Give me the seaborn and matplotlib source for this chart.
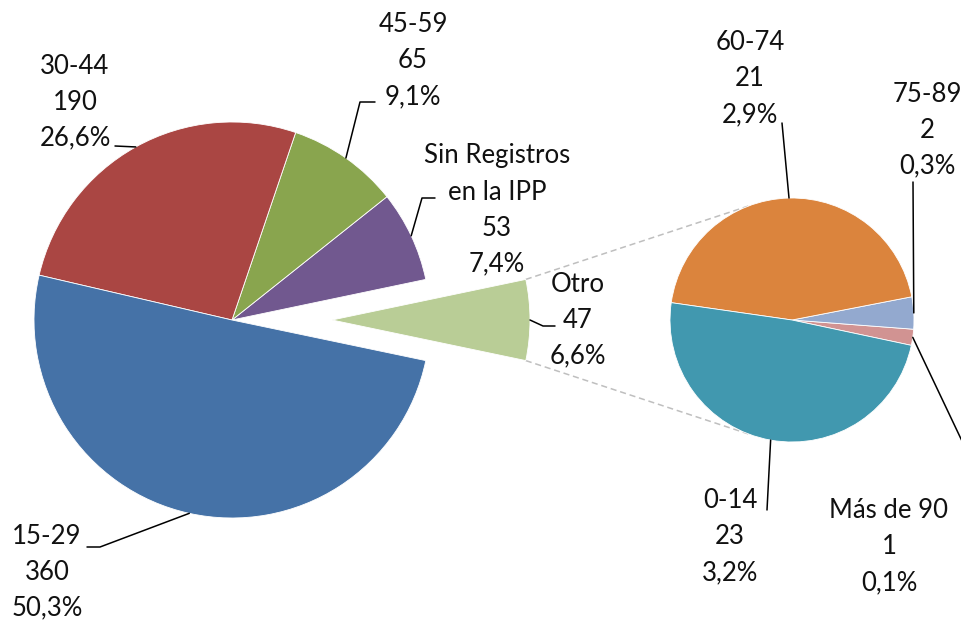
import numpy as np
import seaborn as sns
import matplotlib.pyplot as plt

# datos del grafico principal (en orden antihorario desde "Otro")
grupos_sec = ['Más de 90', '75-89', '60-74', '0-14']
valores_sec = [1, 2, 21, 23]
colores_sec = ['#D19392', '#93A9CF', '#DB843D', '#4198AF']

grupos = ['Otro', 'Sin Registros\nen la IPP', '45-59', '30-44', '15-29']
valores = [sum(valores_sec), 53, 65, 190, 360]
colores = ['#B9CD96', '#71588F', '#89A54E', '#AA4643', '#4572A7']

total = sum(valores)

sns.set_theme(style='white')
plt.rcParams['font.family'] = ['Lato', 'DejaVu Sans']

fig = plt.figure(figsize=(9.62, 6.2), dpi=100)
ax = fig.add_axes([0, 0, 1, 1])

# pastel principal, con "Otro" separado hacia la derecha
inicio = -valores[0] / total * 360 / 2
wedges, _ = ax.pie(valores, colors=colores, startangle=inicio, center=(232, 300),
                   radius=198, explode=[100, 0, 0, 0, 0], frame=True,
                   wedgeprops=dict(edgecolor='white', linewidth=0.6))

# pastel secundario con el desglose de "Otro"
inicio_sec = -12
wedges_sec, _ = ax.pie(valores_sec, colors=colores_sec, startangle=inicio_sec,
                       center=(792, 300), radius=122, frame=True,
                       wedgeprops=dict(edgecolor='white', linewidth=0.6))


def borde(w, ang=None):
    if ang is None:
        ang = (w.theta1 + w.theta2) / 2
    a = np.deg2rad(ang)
    return w.center[0] + w.r * np.cos(a), w.center[1] + w.r * np.sin(a)


# lineas de conexion entre "Otro" y el pastel secundario
otro = wedges[0]
ws = wedges_sec[0]
for ang_o, ang_s in [(otro.theta2, 111), (otro.theta1, -111)]:
    p1 = borde(otro, ang_o)
    p2 = (ws.center[0] + ws.r * np.cos(np.deg2rad(ang_s)),
          ws.center[1] + ws.r * np.sin(np.deg2rad(ang_s)))
    ax.plot([p1[0], p2[0]], [p1[1], p2[1]], color='#BFBFBF', lw=1.1,
            ls=(0, (4, 2.5)), zorder=0)


def etiqueta(nombre, v):
    pct = f'{v / total * 100:.1f}'.replace('.', ',')
    return f'{nombre}\n{v}\n{pct}%'


# posicion del texto y puntos de la linea guia
pos_main = [(578, 300), (497, 410), (413, 559), (75, 518), (47, 48)]
guias_main = [[(543, 294), (555, 294)], [(422, 422), (435, 422)],
              [(360, 518), (375, 518)], [(115, 474)], [(100, 73), (87, 73)]]
pos_sec = [(889, 73), (927, 490), (750, 541), (730, 83)]
guias_sec = [[(990, 120)], [(913, 438)], [(782, 497)], [(767, 110)]]

for ws_list, noms, vals, posiciones, guias in [
        (wedges, grupos, valores, pos_main, guias_main),
        (wedges_sec, grupos_sec, valores_sec, pos_sec, guias_sec)]:
    for w, nom, v, p, g in zip(ws_list, noms, vals, posiciones, guias):
        pts = [borde(w)] + g
        ax.plot([q[0] for q in pts], [q[1] for q in pts], color='black', lw=1.1)
        ax.text(p[0], p[1], etiqueta(nom, v), ha='center', va='center',
                fontsize=18.5, linespacing=1.55, color='#111111')

ax.set_xlim(0, 962)
ax.set_ylim(0, 620)
ax.set_aspect('equal')
ax.axis('off')

fig.savefig('out.png', dpi=100)
